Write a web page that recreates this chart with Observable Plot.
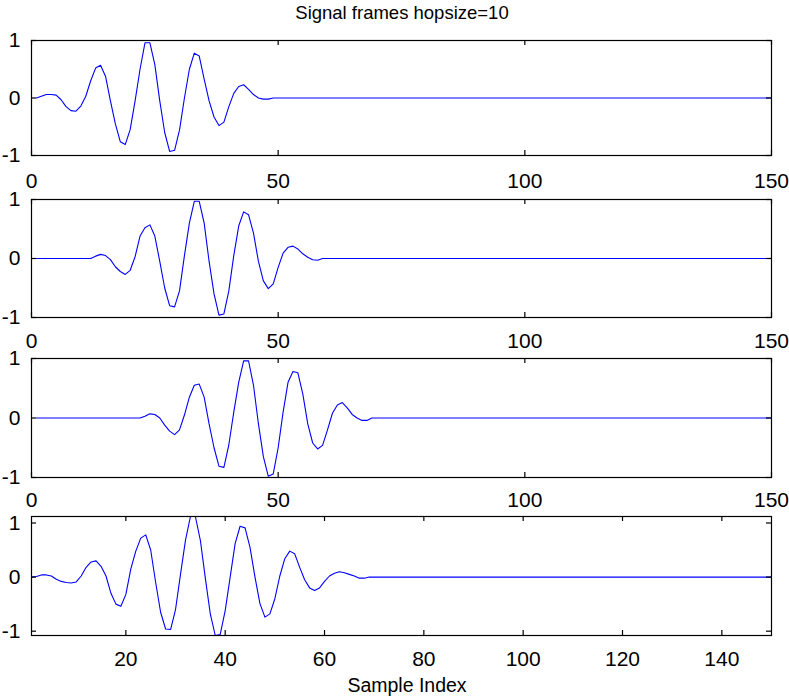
<!DOCTYPE html>
<html>
<head>
<meta charset="utf-8">
<script src="https://cdn.jsdelivr.net/npm/d3@7"></script>
<script src="https://cdn.jsdelivr.net/npm/@observablehq/plot@0.6"></script>
<style>
  html, body { margin: 0; padding: 0; background: #fff; }
  #fig { position: relative; width: 789px; height: 697px; overflow: hidden; background: #fff;
         font-family: "Liberation Sans", Arial, sans-serif; color: #000; }
  .lbl { position: absolute; white-space: nowrap; transform: translate(-50%, -50%); line-height: 1; }
  #fig svg { position: absolute; left: 0; }
</style>
</head>
<body>
<div id="fig"></div>
<script>
// ---- text ----
const titleText = "Signal frames hopsize=10";
const xLabelText = "Sample Index";

// ---- tick labels ----
const xTicksFrames = [0, 50, 100, 150];
const xTicksSignal = [20, 40, 60, 80, 100, 120, 140];
const yTicks = [-1, 0, 1];

// ---- sample values; samples after each list are 0 ----
const nSamples = 150;

const frame1Start = 1;
const frame1Values = [
  0.00, 0.03, 0.06, 0.06, 0.05, -0.03, -0.15, -0.22, -0.23, -0.14,
  0.03, 0.30, 0.52, 0.57, 0.38, -0.05, -0.45, -0.76, -0.81, -0.55,
  -0.05, 0.50, 0.96, 0.96, 0.58, -0.05, -0.60, -0.93, -0.91, -0.56,
  0.00, 0.50, 0.78, 0.73, 0.33, -0.05, -0.33, -0.48, -0.42, -0.15,
  0.08, 0.20, 0.23, 0.15, 0.06, 0.00, -0.02, -0.02, 0.00
];

const frame2Start = 11;
const frame2Values = [
  0.00, 0.00, 0.04, 0.07, 0.05, -0.02, -0.14, -0.22, -0.27, -0.20,
  0.03, 0.38, 0.52, 0.57, 0.38, -0.05, -0.50, -0.80, -0.82, -0.55,
  0.05, 0.60, 0.97, 0.97, 0.60, -0.05, -0.60, -0.96, -0.94, -0.55,
  0.05, 0.55, 0.79, 0.74, 0.43, -0.05, -0.38, -0.51, -0.43, -0.15,
  0.09, 0.19, 0.21, 0.16, 0.08, 0.02, -0.02, -0.03, 0.00
];

const frame3Start = 21;
const frame3Values = [
  0.00, 0.00, 0.03, 0.07, 0.06, 0.00, -0.12, -0.22, -0.28, -0.20,
  0.05, 0.35, 0.55, 0.57, 0.35, -0.10, -0.50, -0.81, -0.83, -0.45,
  0.10, 0.60, 0.96, 0.96, 0.55, -0.10, -0.65, -0.98, -0.94, -0.50,
  0.10, 0.60, 0.78, 0.76, 0.40, -0.10, -0.42, -0.52, -0.46, -0.20,
  0.08, 0.22, 0.26, 0.17, 0.06, 0.00, -0.04, -0.04, 0.00
];

const signalStart = 1;
const signalValues = [
  0.00, 0.01, 0.04, 0.04, 0.02, -0.04, -0.08, -0.10, -0.11, -0.09,
  0.02, 0.18, 0.28, 0.30, 0.20, 0.02, -0.30, -0.50, -0.54, -0.32,
  0.15, 0.48, 0.72, 0.78, 0.50, -0.10, -0.65, -0.96, -0.97, -0.60,
  0.05, 0.68, 1.12, 1.12, 0.68, -0.02, -0.68, -1.08, -1.06, -0.62,
  0.00, 0.62, 0.94, 0.91, 0.55, 0.00, -0.49, -0.74, -0.68, -0.40,
  0.02, 0.34, 0.48, 0.43, 0.18, -0.05, -0.20, -0.25, -0.20, -0.08,
  0.02, 0.07, 0.10, 0.08, 0.05, 0.02, -0.02, -0.02, 0.00
];

function series(start, values) {
  return d3.range(1, nSamples + 1).map(i => {
    const k = i - start;
    return {x: i, y: (k >= 0 && k < values.length) ? values[k] : 0};
  });
}

const fig = document.getElementById("fig");
const FONT = "Liberation Sans, Arial, sans-serif";
const FS = 21;
const tickFmt = d => String(d);

const W = 789, ML = 31, MR = 18;
const panels = [
  {data: series(frame1Start, frame1Values), top: 40,  bottom: 155, xDomain: [0, 150], xTicks: xTicksFrames, yDomain: [-1, 1], labelY: 180},
  {data: series(frame2Start, frame2Values), top: 199, bottom: 317, xDomain: [0, 150], xTicks: xTicksFrames, yDomain: [-1, 1], labelY: 340},
  {data: series(frame3Start, frame3Values), top: 358, bottom: 477, xDomain: [0, 150], xTicks: xTicksFrames, yDomain: [-1, 1], labelY: 499},
  {data: series(signalStart, signalValues), top: 516, bottom: 635, xDomain: null, xTicks: xTicksSignal, yDomain: null, labelY: 658}
];

panels.forEach(p => {
  const mt = 14, mb = 44;
  const innerH = p.bottom - p.top;
  const innerW = W - ML - MR;
  const xDomain = p.xDomain || d3.extent(p.data, d => d.x);
  const yDomain = p.yDomain || d3.extent(p.data, d => d.y);
  const tl = 5;
  const chart = Plot.plot({
    width: W,
    height: innerH + mt + mb,
    marginLeft: ML, marginRight: MR, marginTop: mt, marginBottom: mb,
    style: {background: "transparent", overflow: "visible", fontFamily: FONT, fontSize: FS + "px", color: "#000"},
    x: {domain: xDomain},
    y: {domain: yDomain},
    marks: [
      Plot.line(p.data, {x: "x", y: "y", stroke: "#0000ff", strokeWidth: 1.1}),
      Plot.frame({stroke: "#000", strokeWidth: 1.2}),
      // inward ticks, bottom and top
      Plot.tickX(p.xTicks, {x: d => d, insetTop: innerH - tl, stroke: "#000", strokeWidth: 1.2}),
      Plot.tickX(p.xTicks, {x: d => d, insetBottom: innerH - tl, stroke: "#000", strokeWidth: 1.2}),
      // inward ticks, left and right
      Plot.tickY(yTicks, {y: d => d, insetRight: innerW - tl, stroke: "#000", strokeWidth: 1.2}),
      Plot.tickY(yTicks, {y: d => d, insetLeft: innerW - tl, stroke: "#000", strokeWidth: 1.2}),
      Plot.axisX(p.xTicks, {anchor: "bottom", tickSize: 0, tickPadding: (p.labelY - p.bottom) - 7.5, tickFormat: tickFmt, label: null, fontSize: FS}),
      Plot.axisY(yTicks, {anchor: "left", tickSize: 0, tickPadding: 11, tickFormat: tickFmt, label: null, fontSize: FS})
    ]
  });
  chart.style.top = (p.top - mt) + "px";
  fig.appendChild(chart);
});

const t = document.createElement("div");
t.className = "lbl";
t.textContent = titleText;
t.style.fontSize = "18.5px";
t.style.left = "402px"; t.style.top = "13px";
fig.appendChild(t);

const xl = document.createElement("div");
xl.className = "lbl";
xl.textContent = xLabelText;
xl.style.fontSize = "19.5px";
xl.style.left = "407px"; xl.style.top = "686px";
fig.appendChild(xl);
</script>
</body>
</html>
